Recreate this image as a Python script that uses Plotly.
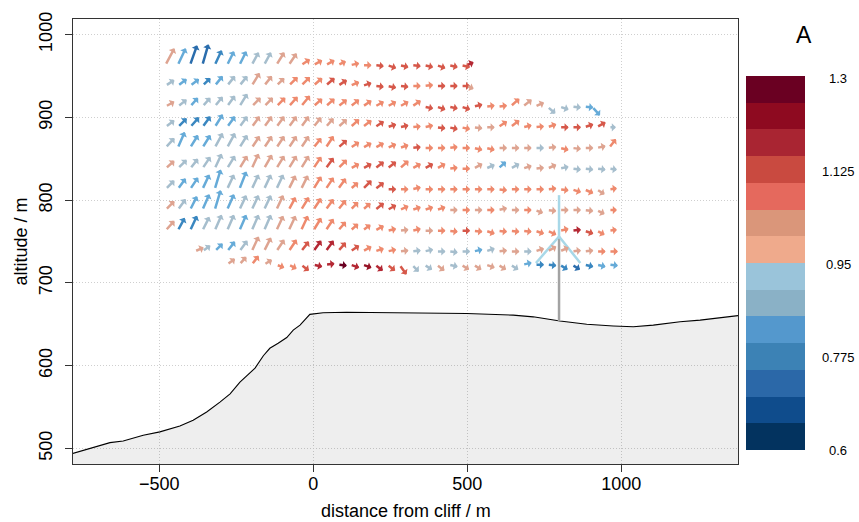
import plotly.graph_objects as go

# ---------------- data ----------------
X_COLS = [-480, -440, -400, -360, -320, -280, -240, -200, -160, -120, -80, -40,
          0, 40, 80, 120, 160, 200, 240, 280, 320, 360, 400, 440, 480, 520,
          560, 600, 640, 680, 720, 760, 800, 840, 880, 920, 960]
ROW_Y = [963, 938, 913, 888, 863, 838, 813, 788, 763, 738, 722]
ROW_K0 = [0, 0, 0, 0, 0, 0, 0, 0, 0, 3, 5]
ROW_K1 = [24, 24, 34, 36, 36, 36, 36, 36, 36, 36, 36]
EXTRA_END_X = {0: 498, 1: 498, 2: 905}
EXTRA_START_X = {9: -385}

# horizontal (U) and vertical (W) wind components (relative units), A value
U1 = [9,8,7,6,7,7,7,7,7,8,8,9,9,9,8,9,9,9,9,9,9,9,9,9,9,7]
W1 = [17,17,20,21,15,14,14,13,13,13,12,6,5,5,4,2,0,-1,-3,-2,-1,-2,-3,-2,-2,3]
A1 = [1.02,0.83,0.72,0.72,0.78,0.83,0.83,0.87,0.87,1.02,1.02,1.07,1.07,1.07,1.07,1.07,1.07,
      1.12,1.12,1.12,1.12,1.12,1.12,1.12,1.12,1.17]

U2 = [9,9,9,8,8,8,8,8,8,8,9,9,9,9,9,9,9,9,9,9,9,9,9,9,9,7]
W2 = [6,7,7,8,10,10,10,13,10,8,9,9,8,8,6,4,3,-1,-2,-1,0,1,0,0,0,-3]
A2 = [0.87,0.83,0.83,0.78,0.83,0.87,0.87,1.02,1.02,1.02,1.07,1.07,1.07,1.12,1.12,1.07,1.12,
      1.12,1.12,1.12,1.07,1.07,1.12,1.12,1.12,1.02]

U3 = [9,9,8,8,8,8,8,9,9,9,9,9,9,9,9,9,9,9,9,9,9,9,9,9,9,9,9,9,9,9,9,8,9,9,9,8]
W3 = [5,7,9,9,10,11,13,9,9,9,10,11,8,8,7,7,6,5,5,5,6,-2,-3,-2,-3,2,1,1,8,7,4,-7,-3,-1,-1,-9]
A3 = [1.02,0.87,0.83,0.87,0.87,0.87,0.87,1.02,1.02,1.07,1.07,1.07,1.07,1.07,1.07,1.07,1.07,
      1.07,1.07,1.07,1.07,1.12,1.12,1.12,1.12,1.12,1.07,1.07,1.07,1.02,1.02,0.87,0.87,0.87,
      0.83,0.83]

U4 = [9,9,9,8,8,8,8,8,8,8,8,8,8,8,9,9,9,9,9,9,9,9,9,9,9,9,9,9,9,9,9,9,9,9,9,9,7]
W4 = [7,9,10,11,13,11,11,11,11,11,11,11,10,9,8,8,7,6,3,2,1,2,-1,-2,-2,-1,0,6,7,2,1,3,0,0,3,5,0]
A4 = [0.87,0.78,0.78,0.78,0.83,0.83,0.87,1.02,1.02,1.02,1.02,1.02,1.02,1.02,1.02,1.07,1.07,
      1.12,1.12,1.12,1.07,1.07,1.12,1.12,1.07,1.02,1.02,1.07,1.07,1.07,1.07,1.07,1.12,1.12,
      1.12,1.12,0.87]

U5 = [9,7,8,8,8,8,8,8,8,8,8,8,8,8,9,9,9,9,9,9,9,9,9,9,9,9,9,9,9,9,9,9,9,9,9,9,7]
W5 = [10,16,13,13,15,15,13,12,12,12,12,12,10,12,8,6,5,5,4,3,1,0,0,1,0,-2,-2,0,0,0,0,1,-2,-1,0,2,9]
A5 = [0.87,0.83,0.83,0.83,0.87,0.87,0.87,1.02,1.02,1.02,1.02,1.02,1.07,1.07,1.12,1.07,1.07,
      1.07,1.07,1.07,1.12,1.07,1.07,1.07,1.07,1.07,1.07,1.02,1.02,1.02,0.87,1.02,1.07,1.02,
      1.02,1.02,1.07]

U6 = [9,9,8,8,7,8,8,7,8,8,8,8,8,8,9,9,9,9,9,9,9,9,9,9,9,9,9,8,9,9,9,9,9,9,9,9,8]
W6 = [8,9,10,12,15,13,13,15,14,13,13,13,12,11,9,5,5,7,7,8,5,5,5,1,0,5,4,7,5,3,1,4,2,-1,-1,-1,-1]
A6 = [1.02,0.87,0.87,0.87,0.87,0.87,1.02,1.02,1.02,1.02,1.02,1.02,1.07,1.12,1.07,1.07,1.12,
      1.12,1.12,1.07,1.07,1.12,1.07,1.07,1.07,1.02,0.87,0.83,0.87,1.02,1.02,1.02,0.87,0.87,
      0.87,0.87,0.87]

U7 = [9,8,8,7,6,7,7,7,7,7,7,7,8,8,8,8,9,9,9,9,9,9,9,9,9,9,9,9,9,9,9,9,9,9,9,8,8]
W7 = [9,11,12,15,20,15,18,15,15,15,14,14,13,12,11,7,9,7,0,0,2,0,0,0,0,0,0,-1,0,0,0,1,-1,-3,-4,-5,1]
A7 = [0.87,0.83,0.83,0.83,0.83,0.87,0.83,0.87,0.87,0.87,1.02,1.02,1.07,1.07,1.07,1.07,1.12,
      1.12,1.12,1.07,1.07,1.07,1.07,1.07,1.07,1.07,1.07,1.07,1.07,1.07,1.07,1.07,1.07,1.07,
      1.07,1.02,1.07]

U8 = [9,8,7,7,6,7,7,7,7,7,7,8,8,8,8,8,8,9,9,9,9,9,9,9,9,9,9,9,9,9,8,9,9,9,9,8,8]
W8 = [9,11,14,16,20,16,15,15,15,15,13,13,12,11,10,8,7,7,5,4,3,3,3,0,0,0,0,2,0,0,-3,-1,0,0,-1,-4,0]
A8 = [1.02,0.87,0.83,0.83,0.83,0.83,0.87,0.87,0.87,1.02,1.07,1.07,1.07,1.07,1.07,1.07,1.07,
      1.12,1.12,1.07,1.07,1.07,1.07,1.02,1.07,1.02,1.07,1.02,1.02,1.07,1.02,1.02,1.02,1.02,
      1.02,1.02,1.07]

U9 = [9,7,7,7,7,7,7,7,7,7,7,7,8,8,8,8,8,9,9,9,9,9,9,9,9,9,9,9,9,9,9,9,9,9,9,8,8]
W9 = [10,13,15,14,16,16,16,16,16,15,15,15,13,12,9,7,6,5,2,1,2,0,0,-1,0,-1,-3,-1,-1,-1,-3,-4,2,1,-3,-4,1]
A9 = [1.02,0.78,0.78,0.87,0.87,0.87,0.83,0.87,0.87,1.02,1.02,1.07,1.07,1.07,1.07,1.07,1.07,
      1.07,1.07,1.02,1.07,1.02,1.07,1.07,1.12,1.07,1.07,1.07,1.07,1.07,1.07,1.07,1.07,1.17,
      1.12,1.07,1.07]

U10 = [9,8,8,8,8,7,7,8,8,8,8,8,8,9,9,9,9,9,9,9,9,9,9,9,9,9,9,9,9,9,9,9,9,9,9]
W10 = [4,6,8,10,11,15,14,12,12,10,11,11,9,6,5,3,2,1,1,2,0,-1,0,2,3,1,0,0,3,5,4,1,1,0,0]
A10 = [1.02,0.87,0.83,0.83,0.87,1.02,1.02,1.02,1.07,1.12,1.17,1.17,1.12,1.12,1.07,1.07,
       1.07,1.02,0.87,0.87,0.87,0.87,0.87,0.83,0.87,1.02,1.02,0.87,1.02,1.02,1.02,1.02,1.02,
       1.07,1.07]

U11 = [8,7,7,8,8,8,8,9,9,9,9,9,8,8,7,7,8,8,9,8,8,9,8,8,9,9,9,8,8,9,9,9]
W11 = [6,8,9,5,-3,-4,-6,-2,1,-1,-3,-3,-6,-6,-10,-7,-5,-6,-2,-5,-5,-3,-5,-5,2,0,-1,-5,-5,-2,-2,-1]
A11 = [1.02,1.02,1.07,1.02,1.07,1.07,1.12,1.17,1.17,1.27,1.17,1.22,1.17,1.12,1.12,0.87,0.87,
       1.02,0.87,1.02,1.02,1.02,1.02,0.87,0.83,0.78,0.78,0.78,0.72,0.78,0.83,0.83]

# terrain profile
TERRAIN_X = [-790, -781, -660, -617, -552, -498, -433, -390, -346, -303, -270, -238, -216,
             -189, -162, -141, -114, -86, -65, -43, -11, 32, 108, 325, 498, 649, 714, 801,
             888, 974, 1039, 1104, 1191, 1256, 1390]
TERRAIN_Y = [493, 494, 507, 509, 516, 520, 527, 534, 544, 556, 566, 580, 588, 597, 612, 621,
             627, 634, 643, 649, 662, 664, 664.5, 664, 663, 661, 659, 654, 650, 648, 647, 649,
             653, 655, 661]

# wind turbine
TURBINE_X = 798
TURBINE_BASE = 654
HUB_Y = 756
BLADE_TIPS_X = [798, 723, 867]
BLADE_TIPS_Y = [806, 724, 724]

# colour classes of A
A_MIN, A_MAX, A_STEP = 0.6, 1.3, 0.05
PALETTE = ['#03335F', '#0F4C8C', '#2B68A8', '#3C82B5', '#5498CD', '#8AB1C6', '#9AC4DA',
           '#EFAA8C', '#DA967A', '#E5695D', '#C94A40', '#A92532', '#8E0A20', '#6A0022']
# colours as they appear on the (thin, anti-aliased) arrows, per class
ARROW_PALETTE = ['#03335F', '#0F4C8C', '#2A6DAD', '#3A87C0', '#66ABD8', '#A6BECD', '#9AC4DA',
                 '#EFAA8C', '#DEA491', '#EE8A6E', '#D6584A', '#B42834', '#961326', '#6A0022']
CB_TICKS = [0.6, 0.775, 0.95, 1.125, 1.3]
CB_LABELS = ['0.6', '0.775', '0.95', '1.125', '1.3']

# ---------------- figure ----------------
W_PX, H_PX = 859, 522
ML, MR, MT, MB = 73, 121, 16, 58
XR = [-780, 1379]
YR = [481.2, 1018.8]
PX_PER_X = (W_PX - ML - MR) / (XR[1] - XR[0])
PX_PER_Y = (H_PX - MT - MB) / (YR[1] - YR[0])
FONT = 'Liberation Sans, Arial, sans-serif'

fig = go.Figure()

fig.add_trace(go.Scatter(
    x=TERRAIN_X + [TERRAIN_X[-1], TERRAIN_X[0]],
    y=TERRAIN_Y + [400, 400],
    mode='lines', fill='toself', fillcolor='rgba(0,0,0,0.068)',
    line=dict(color='rgba(0,0,0,0)', width=0), hoverinfo='skip', showlegend=False))
fig.add_trace(go.Scatter(x=TERRAIN_X, y=TERRAIN_Y, mode='lines',
                         line=dict(color='black', width=1.1), hoverinfo='skip',
                         showlegend=False))

fig.add_trace(go.Scatter(x=[TURBINE_X, TURBINE_X], y=[TURBINE_BASE, HUB_Y], mode='lines',
                         line=dict(color='#A3A3A3', width=2.5), hoverinfo='skip',
                         showlegend=False))
bx, by = [], []
for tx, ty in zip(BLADE_TIPS_X, BLADE_TIPS_Y):
    bx += [TURBINE_X, tx, None]
    by += [HUB_Y, ty, None]
fig.add_trace(go.Scatter(x=bx, y=by, mode='lines', line=dict(color='#A8D8E8', width=2.5),
                         hoverinfo='skip', showlegend=False))

rows = [(U1, W1, A1), (U2, W2, A2), (U3, W3, A3), (U4, W4, A4), (U5, W5, A5), (U6, W6, A6),
        (U7, W7, A7), (U8, W8, A8), (U9, W9, A9), (U10, W10, A10), (U11, W11, A11)]


def colour_of(a):
    i = int((a - A_MIN) / A_STEP)
    return ARROW_PALETTE[max(0, min(len(ARROW_PALETTE) - 1, i))]


annotations = []
for r, (U, W, A) in enumerate(rows):
    xs = X_COLS[ROW_K0[r]:ROW_K1[r] + 1]
    if r in EXTRA_START_X:
        xs = [EXTRA_START_X[r]] + xs
    if r in EXTRA_END_X:
        xs = xs + [EXTRA_END_X[r]]
    if not (len(xs) == len(U) == len(W) == len(A)):
        print('row', r, len(xs), len(U), len(W), len(A))
    y0 = ROW_Y[r]
    for x0, u, w, a in zip(xs, U, W, A):
        annotations.append(dict(
            x=x0 + u / PX_PER_X, y=y0 + w / PX_PER_Y, ax=x0, ay=y0,
            xref='x', yref='y', axref='x', ayref='y', text='', showarrow=True,
            arrowhead=1, arrowsize=0.55, arrowwidth=2.5, arrowcolor=colour_of(a),
            standoff=0, startstandoff=0))

# colour bar
n = len(PALETTE)
cscale = []
for i, c in enumerate(PALETTE):
    cscale.append([i / n, c])
    cscale.append([(i + 1) / n, c])
CB_TOP_PX, CB_BOT_PX, CB_LEFT_PX, CB_W_PX = 76, 450, 746, 59
plot_w = W_PX - ML - MR
plot_h = H_PX - MT - MB
cb_len = CB_BOT_PX - CB_TOP_PX
cb_y0 = (H_PX - MB - CB_BOT_PX) / plot_h
fig.add_trace(go.Scatter(
    x=[None], y=[None], mode='markers', hoverinfo='skip', showlegend=False,
    marker=dict(color=[A_MIN, A_MAX], cmin=A_MIN, cmax=A_MAX, colorscale=cscale,
                showscale=True,
                colorbar=dict(x=(CB_LEFT_PX - ML) / plot_w, xanchor='left', xpad=0, ypad=0,
                              y=cb_y0, yanchor='bottom', len=cb_len, lenmode='pixels',
                              thickness=CB_W_PX, thicknessmode='pixels', outlinewidth=0,
                              showticklabels=False, ticks=''))))
for v, lab in zip(CB_TICKS, CB_LABELS):
    annotations.append(dict(
        x=(838 - ML) / plot_w, y=cb_y0 + (v - A_MIN) / (A_MAX - A_MIN) * cb_len / plot_h,
        xref='paper', yref='paper', text=lab, showarrow=False,
        font=dict(family=FONT, size=13, color='black'), xanchor='center', yanchor='middle'))
annotations.append(dict(x=(804 - ML) / plot_w, y=(H_PX - MB - 32) / plot_h, xref='paper',
                        yref='paper', text='A', showarrow=False,
                        font=dict(family=FONT, size=23, color='black'),
                        xanchor='center', yanchor='middle'))
annotations.append(dict(x=0.5, y=(H_PX - MB - 522) / plot_h, xref='paper', yref='paper',
                        text='distance from cliff / m', showarrow=False, borderpad=0,
                        font=dict(family=FONT, size=18, color='black'),
                        xanchor='center', yanchor='bottom'))
annotations.append(dict(x=(20 - ML) / plot_w, y=0.5, xref='paper', yref='paper',
                        text='altitude / m', showarrow=False, textangle=-90,
                        font=dict(family=FONT, size=18, color='black'),
                        xanchor='center', yanchor='middle'))

axis_common = dict(showline=True, linecolor='#333333', linewidth=1, mirror=True,
                   ticks='outside', ticklen=7, tickcolor='#333333', tickwidth=1,
                   showgrid=True, gridcolor='#CFCFCF', griddash='1px,2px', gridwidth=1,
                   zeroline=False, tickfont=dict(family=FONT, size=18, color='black'))
fig.update_xaxes(range=XR, tickvals=[-500, 0, 500, 1000], ticklabelstandoff=-4, **axis_common)
fig.update_yaxes(range=YR, tickvals=[500, 600, 700, 800, 900, 1000], tickangle=-90,
                 ticklabelstandoff=6, **axis_common)

fig.update_layout(width=W_PX, height=H_PX, margin=dict(l=ML, r=MR, t=MT, b=MB),
                  plot_bgcolor='white', paper_bgcolor='white', annotations=annotations,
                  font=dict(family=FONT), showlegend=False)

fig.write_html('out.html')
